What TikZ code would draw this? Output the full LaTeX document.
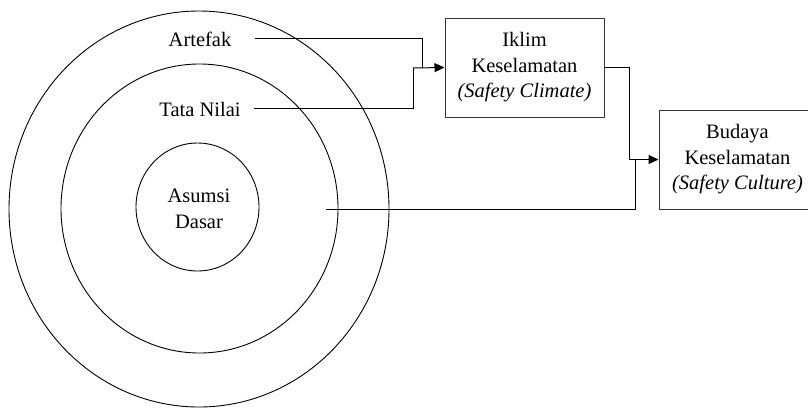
\documentclass[tikz,border=0pt]{standalone}
\usepackage{fontspec}
\setmainfont{Liberation Serif}
\usetikzlibrary{arrows.meta}
\tikzset{
  ring/.style={draw=black, line width=0.9pt},
  label/.style={inner sep=0pt, font=\fontsize{20.5}{25.5}\selectfont},
  stage/.style={draw=black!80, line width=1pt, minimum height=99pt, align=center,
    inner sep=0pt, font=\fontsize{20.5}{25.5}\selectfont},
  link/.style={draw=black, line width=1pt},
  flow/.style={link, -{Triangle[length=10pt,width=9pt]}}
}
\begin{document}
\begin{tikzpicture}[x=1pt,y=-1pt]
  \useasboundingbox (0,0) rectangle (808,408);
  \clip (0,0) rectangle (808,408);

  % three layers of culture
  \draw[ring] (199,209) ellipse [x radius=190, y radius=198];
  \draw[ring] (199.5,208.5) ellipse [x radius=138.5, y radius=144.5];
  \draw[ring] (197.5,207) ellipse [x radius=61.5, y radius=64];

  \node[label, anchor=base] (artefak) at (200,46) {Artefak};
  \node[label, anchor=base] (nilai) at (200,116) {Tata Nilai};
  \node[label, align=center] (asumsi) at (199,209) {Asumsi\\Dasar};

  % outcome boxes
  \node[stage, minimum width=159pt] (iklim) at (524.5,67.5)
    {Iklim\\Keselamatan\\\textit{(Safety Climate)}};
  \node[stage, minimum width=157pt] (budaya) at (737.5,159.5)
    {Budaya\\Keselamatan\\\textit{(Safety Culture)}};

  % junction points
  \coordinate (jA) at (422,68);
  \coordinate (jB) at (413,68);
  \coordinate (jC) at (629,159.5);
  \coordinate (jD) at (635,159.5);
  \coordinate (asumsiOut) at (326,209);

  \draw[link] ([xshift=23pt]artefak.east) -| (jA);
  \draw[link] ([xshift=13pt]nilai.east) -| (jB);
  \draw[flow] (jB) -- (iklim.west);

  \draw[link] (iklim.east) -| (jC);
  \draw[link] (asumsiOut) -| (jD);
  \draw[flow] (jC) -- (budaya.west);
\end{tikzpicture}
\end{document}
